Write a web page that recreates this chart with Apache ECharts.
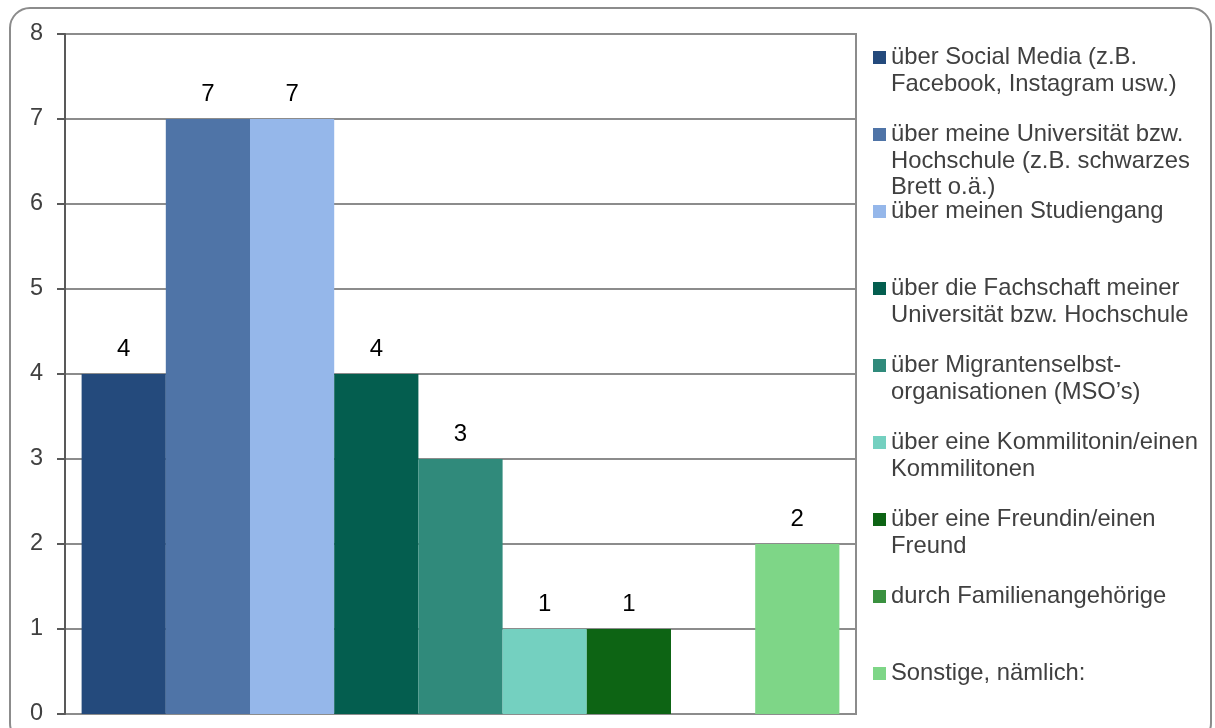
<!DOCTYPE html>
<html>
<head>
<meta charset="utf-8">
<script src="https://cdn.jsdelivr.net/npm/echarts@6/dist/echarts.min.js"></script>
<style>
  html, body { margin: 0; padding: 0; background: #fff; }
  #chart { width: 1215px; height: 728px; }
</style>
</head>
<body>
<div id="chart"></div>
<script>
// Answer options (legend text, wrapped as shown in the legend)
const options = [
  'über Social Media (z.B.\nFacebook, Instagram usw.)',
  'über meine Universität bzw.\nHochschule (z.B. schwarzes\nBrett o.ä.)',
  'über meinen Studiengang',
  'über die Fachschaft meiner\nUniversität bzw. Hochschule',
  'über Migrantenselbst-\norganisationen (MSO’s)',
  'über eine Kommilitonin/einen\nKommilitonen',
  'über eine Freundin/einen\nFreund',
  'durch Familienangehörige',
  'Sonstige, nämlich:'
];
// Number of answers per option
const counts = [4, 7, 7, 4, 3, 1, 1, 0, 2];
const colors = ['#244a7c', '#4f74a7', '#95b7ea', '#045e4f', '#308a7b', '#74d0c0', '#0d6414', '#3a913f', '#7ed687'];
// Value axis ticks
const yTicks = [0, 1, 2, 3, 4, 5, 6, 7, 8];

const FONT = 'Liberation Sans, Arial, sans-serif';
const LINE_H = 26.5;
const LEGEND_TOP0 = 57.5;
const LEGEND_STEP = 77;

const series = options.map((name, i) => ({
  type: 'bar',
  name: name,
  data: [counts[i]],
  barGap: '0%',
  barCategoryGap: '4.2%',
  itemStyle: { color: colors[i] },
  label: {
    show: true,
    position: 'top',
    distance: 13,
    color: '#000',
    fontFamily: FONT,
    fontSize: 24,
    formatter: p => (p.value ? String(p.value) : '')
  }
}));

// One legend block per option; leading blank lines keep the first text line level with the swatch
const legends = options.map((name, i) => {
  const n = name.split('\n').length;
  const center = LEGEND_TOP0 + i * LEGEND_STEP;
  return {
    data: [name],
    orient: 'vertical',
    left: 873,
    top: center - (2 * n - 1) * LINE_H / 2,
    padding: 0,
    icon: 'rect',
    itemWidth: 13,
    itemHeight: 13,
    selectedMode: false,
    formatter: txt => '\n'.repeat(n - 1) + txt,
    textStyle: {
      color: '#404040',
      fontFamily: FONT,
      fontSize: 23.8,
      lineHeight: LINE_H
    }
  };
});

const chart = echarts.init(document.getElementById('chart'), null, { renderer: 'canvas' });
chart.setOption({
  animation: false,
  backgroundColor: '#fff',
  graphic: [{
    type: 'rect',
    shape: { x: 10, y: 8, width: 1201, height: 735, r: 20 },
    style: { fill: 'none', stroke: '#8c8c8c', lineWidth: 2 },
    z: -1
  }],
  grid: {
    left: 65, top: 34, right: 359, bottom: 14,
    show: true, borderColor: '#8c8c8c', borderWidth: 2
  },
  legend: legends,
  xAxis: {
    type: 'category',
    data: [''],
    axisLine: { show: false },
    axisTick: { show: false },
    axisLabel: { show: false },
    splitLine: { show: false }
  },
  yAxis: {
    type: 'value',
    min: yTicks[0],
    max: yTicks[yTicks.length - 1],
    interval: 1,
    axisLine: { show: true, lineStyle: { color: '#595959', width: 2 } },
    axisTick: { show: true, length: 8, lineStyle: { color: '#595959', width: 2 } },
    axisLabel: { color: '#404040', fontFamily: FONT, fontSize: 23.5, margin: 22 },
    splitLine: { show: true, lineStyle: { color: '#8c8c8c', width: 2 } }
  },
  series: series
});
</script>
</body>
</html>
